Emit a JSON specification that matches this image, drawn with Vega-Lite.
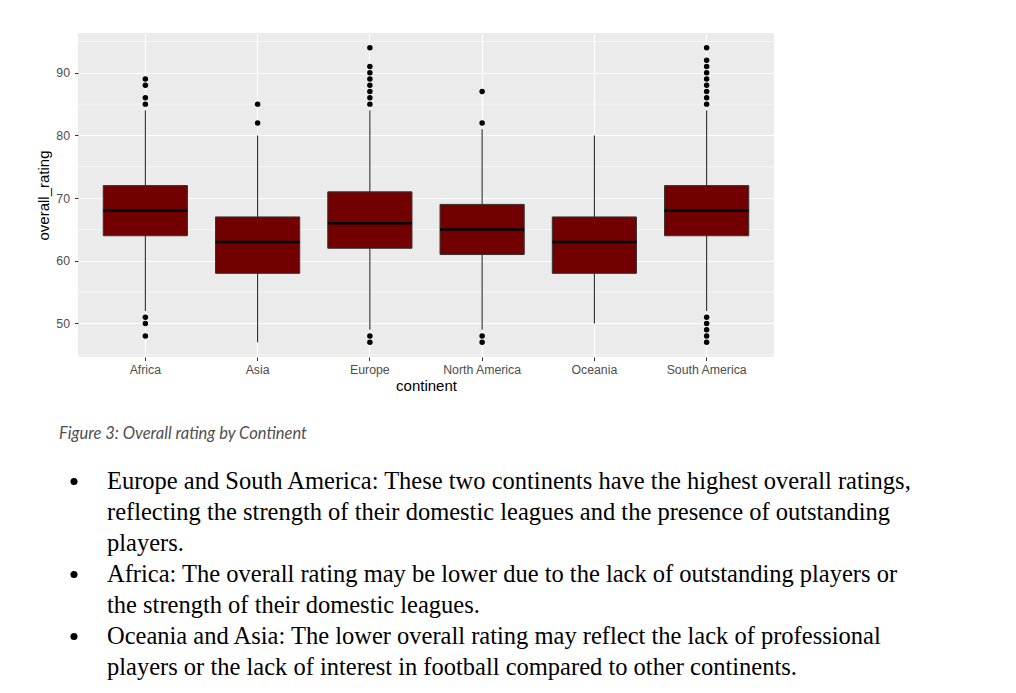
{
  "$schema": "https://vega.github.io/schema/vega-lite/v6.json",
  "background": "white",
  "padding": {"left": 36, "top": 33, "right": 5, "bottom": 5},
  "spacing": 31,
  "datasets": {
    "boxes": [
      {"continent": "Africa", "lower": 52, "q1": 64, "median": 68, "q3": 72, "upper": 84},
      {"continent": "Asia", "lower": 47, "q1": 58, "median": 63, "q3": 67, "upper": 80},
      {"continent": "Europe", "lower": 49, "q1": 62, "median": 66, "q3": 71, "upper": 84},
      {"continent": "North America", "lower": 49, "q1": 61, "median": 65, "q3": 69, "upper": 81},
      {"continent": "Oceania", "lower": 50, "q1": 58, "median": 63, "q3": 67, "upper": 80},
      {"continent": "South America", "lower": 52, "q1": 64, "median": 68, "q3": 72, "upper": 84}
    ],
    "outliers": [
      {"continent": "Africa", "value": 89}, {"continent": "Africa", "value": 88}, {"continent": "Africa", "value": 86}, {"continent": "Africa", "value": 85},
      {"continent": "Africa", "value": 51}, {"continent": "Africa", "value": 50}, {"continent": "Africa", "value": 48},
      {"continent": "Asia", "value": 85}, {"continent": "Asia", "value": 82},
      {"continent": "Europe", "value": 94}, {"continent": "Europe", "value": 91}, {"continent": "Europe", "value": 90}, {"continent": "Europe", "value": 89},
      {"continent": "Europe", "value": 88}, {"continent": "Europe", "value": 87}, {"continent": "Europe", "value": 86}, {"continent": "Europe", "value": 85},
      {"continent": "Europe", "value": 48}, {"continent": "Europe", "value": 47},
      {"continent": "North America", "value": 87}, {"continent": "North America", "value": 82}, {"continent": "North America", "value": 48}, {"continent": "North America", "value": 47},
      {"continent": "South America", "value": 94}, {"continent": "South America", "value": 92}, {"continent": "South America", "value": 91}, {"continent": "South America", "value": 90},
      {"continent": "South America", "value": 89}, {"continent": "South America", "value": 88}, {"continent": "South America", "value": 87}, {"continent": "South America", "value": 86},
      {"continent": "South America", "value": 85}, {"continent": "South America", "value": 51}, {"continent": "South America", "value": 50}, {"continent": "South America", "value": 49},
      {"continent": "South America", "value": 48}, {"continent": "South America", "value": 47}
    ],
    "minor": [{"v": 45}, {"v": 55}, {"v": 65}, {"v": 75}, {"v": 85}, {"v": 95}],
    "lines": [
      {"line": 1, "bullet": true, "text": "Europe and South America: These two continents have the highest overall ratings,"},
      {"line": 2, "bullet": false, "text": "reflecting the strength of their domestic leagues and the presence of outstanding"},
      {"line": 3, "bullet": false, "text": "players."},
      {"line": 4, "bullet": true, "text": "Africa: The overall rating may be lower due to the lack of outstanding players or"},
      {"line": 5, "bullet": false, "text": "the strength of their domestic leagues."},
      {"line": 6, "bullet": true, "text": "Oceania and Asia: The lower overall rating may reflect the lack of professional"},
      {"line": 7, "bullet": false, "text": "players or the lack of interest in football compared to other continents."}
    ]
  },
  "vconcat": [
    {
      "width": 696,
      "height": 324,
      "view": {"fill": "#EBEBEB", "stroke": null},
      "layer": [
        {
          "data": {"name": "minor"},
          "mark": {"type": "rule", "color": "white", "strokeWidth": 0.6},
          "encoding": {
            "y": {"field": "v", "type": "quantitative", "title": "overall_rating",
                  "scale": {"domain": [44.65, 96.35], "nice": false, "zero": false},
                  "axis": {"values": [50, 60, 70, 80, 90], "grid": true}}
          }
        },
        {
          "data": {"name": "boxes"},
          "mark": {"type": "rule", "color": "#1a1a1a", "strokeWidth": 1},
          "encoding": {
            "x": {"field": "continent", "type": "nominal", "title": "continent",
                  "scale": {"type": "band", "paddingInner": 0, "paddingOuter": 0.1},
                  "axis": {"grid": true, "labelAngle": 0}},
            "y": {"field": "lower", "type": "quantitative", "title": "overall_rating"},
            "y2": {"field": "upper"}
          }
        },
        {
          "data": {"name": "boxes"},
          "mark": {"type": "bar", "fill": "#720000", "stroke": "#333333", "strokeWidth": 1, "width": {"band": 0.75}},
          "encoding": {
            "x": {"field": "continent", "type": "nominal", "title": "continent"},
            "y": {"field": "q1", "type": "quantitative", "title": "overall_rating"},
            "y2": {"field": "q3"}
          }
        },
        {
          "data": {"name": "boxes"},
          "mark": {"type": "tick", "color": "black", "thickness": 2.6, "size": 84, "opacity": 1},
          "encoding": {
            "x": {"field": "continent", "type": "nominal", "title": "continent"},
            "y": {"field": "median", "type": "quantitative", "title": "overall_rating"}
          }
        },
        {
          "data": {"name": "outliers"},
          "mark": {"type": "circle", "color": "black", "size": 30, "opacity": 1},
          "encoding": {
            "x": {"field": "continent", "type": "nominal", "title": "continent"},
            "y": {"field": "value", "type": "quantitative", "title": "overall_rating"}
          }
        }
      ]
    },
    {
      "width": 950,
      "height": 217,
      "view": {"stroke": null},
      "title": {"text": "Figure 3: Overall rating by Continent", "anchor": "start", "frame": "group", "font": "Lato", "fontStyle": "italic", "fontSize": 16.5, "fontWeight": "normal", "color": "#505050", "offset": 24, "dx": -19},
      "data": {"name": "lines"},
      "layer": [
        {
          "transform": [{"filter": "datum.bullet"}],
          "mark": {"type": "circle", "color": "black", "size": 50, "opacity": 1},
          "encoding": {
            "x": {"datum": "bullet", "type": "nominal", "scale": {"type": "point", "domain": ["bullet", "text"], "range": [-4, 29], "padding": 0}, "axis": null},
            "y": {"field": "line", "type": "quantitative", "scale": {"domain": [0.5, 7.5], "reverse": true, "nice": false, "zero": false}, "axis": null}
          }
        },
        {
          "mark": {"type": "text", "align": "left", "baseline": "middle", "font": "Liberation Serif", "fontSize": 24.5, "color": "black"},
          "encoding": {
            "x": {"datum": "text", "type": "nominal", "axis": null},
            "y": {"field": "line", "type": "quantitative", "axis": null},
            "text": {"field": "text"}
          }
        }
      ]
    }
  ],
  "config": {
    "axis": {
      "domain": false, "tickColor": "#333333", "tickSize": 3.5, "tickWidth": 1,
      "labelColor": "#4D4D4D", "labelFont": "Liberation Sans", "labelFontSize": 12.3,
      "titleFont": "Liberation Sans", "titleFontSize": 15, "titleFontWeight": "normal", "titleColor": "#000000",
      "gridColor": "#FFFFFF", "gridWidth": 1.2
    },
    "axisX": {"labelPadding": 3, "titlePadding": 3, "bandPosition": 0.5},
    "axisY": {"labelPadding": 5, "titlePadding": 4}
  }
}
